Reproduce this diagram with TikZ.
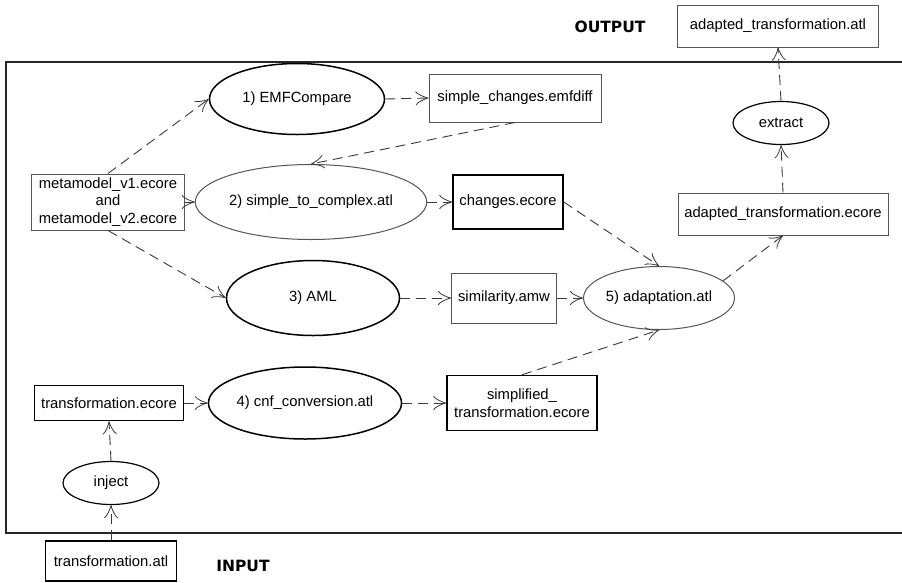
\documentclass[tikz,border=0pt]{standalone}
\usepackage{fontspec}
\setmainfont{Liberation Sans}
\newfontfamily\labfont{DejaVu Sans}
\usetikzlibrary{shapes.geometric,arrows.meta}
\definecolor{thin}{HTML}{555555}
\definecolor{edge}{HTML}{3A3A3A}
\tikzset{
  txt/.style={font=\fontsize{14.8}{17.8}\selectfont, align=center, inner sep=0pt},
  boxthin/.style={txt, draw=thin, line width=1pt, rectangle},
  boxthick/.style={txt, draw=black, line width=1.5pt, rectangle},
  ellthin/.style={txt, draw=thin, line width=1pt, ellipse},
  ellthick/.style={txt, draw=black, line width=1.5pt, ellipse},
  flow/.style={draw=edge, line width=0.9pt, dash pattern=on 10pt off 6pt,
     -{Classical TikZ Rightarrow[length=13pt,width=14pt,line width=0.8pt]}},
  bigword/.style={font=\labfont\bfseries\fontsize{15.5}{18}\selectfont, inner sep=0pt}
}
\begin{document}
\begin{tikzpicture}[x=1pt,y=-1pt]
\useasboundingbox (0,0) rectangle (902,582);
\fill[white] (0,0) rectangle (902,582);
\begin{scope}
\clip (0,0) rectangle (902,582);
\draw[line width=2pt, color=black!85] (6,62) rectangle (915,533);
\end{scope}

\node[bigword] (out) at (610,27) {OUTPUT};
\node[bigword] (in) at (243,566) {INPUT};

\node[boxthin, minimum width=201pt, minimum height=42pt] (aatl) at (778,26) {adapted\_transformation.atl};
\node[ellthick, line width=1.2pt, minimum width=96pt, minimum height=43pt] (extract) at (781,123) {extract};
\node[boxthin, minimum width=210pt, minimum height=42pt] (aecore) at (783,214) {adapted\_transformation.ecore};

\node[ellthick, minimum width=175pt, minimum height=71pt] (emf) at (297,99) {1) EMFCompare};
\node[boxthin, minimum width=172pt, minimum height=48pt] (emfdiff) at (515,98) {simple\_changes.emfdiff};

\node[boxthin, minimum width=153pt, minimum height=56pt] (mm) at (108,202) {metamodel\_v1.ecore\\and\\metamodel\_v2.ecore};
\node[ellthin, minimum width=204pt, minimum height=75pt] (stc) at (311,202) {2) simple\_to\_complex.atl};
\node[boxthick, minimum width=110pt, minimum height=54pt] (changes) at (508,202) {changes.ecore};

\node[ellthick, minimum width=173pt, minimum height=75pt] (aml) at (313,298) {3) AML};
\node[boxthin, minimum width=105pt, minimum height=50pt] (sim) at (504,298) {similarity.amw};
\node[ellthin, minimum width=151pt, minimum height=63pt] (adapt) at (659,298) {5) adaptation.atl};

\node[boxthick, minimum width=149pt, minimum height=35pt] (tecore) at (109,403) {transformation.ecore};
\node[ellthick, minimum width=171pt, minimum height=72pt] (cnf) at (305,403) {4) cnf\_conversion.atl};
\node[boxthick, minimum width=150pt, minimum height=55pt] (simp) at (522,403) {simplified\_\\transformation.ecore};

\node[ellthick, line width=1.2pt, minimum width=96pt, minimum height=43pt] (inject) at (111,483) {inject};
\node[boxthick, line width=1.2pt, minimum width=131pt, minimum height=40pt] (tatl) at (111,561) {transformation.atl};

\draw[flow] (mm.north) -- (emf.west);
\draw[flow] (mm.east) -- (stc.west);
\draw[flow] (mm.south) -- (aml.west);
\draw[flow] (emf.east) -- (emfdiff.west);
\draw[flow] (emfdiff.south) -- (stc.north);
\draw[flow] (stc.east) -- (changes.west);
\draw[flow] (changes.east) -- (adapt.north);
\draw[flow] (aml.east) -- (sim.west);
\draw[flow] (sim.east) -- (adapt.west);
\draw[flow] (simp.north) -- (adapt.south);
\draw[flow] (adapt.15) -- (aecore.south);
\draw[flow] (aecore.north) -- (extract.south);
\draw[flow] (extract.north) -- (aatl.south);
\draw[flow] (tecore.east) -- (cnf.west);
\draw[flow] (cnf.east) -- (simp.west);
\draw[flow] (inject.north) -- (tecore.south);
\draw[flow] (tatl.north) -- (inject.south);
\end{tikzpicture}
\end{document}
